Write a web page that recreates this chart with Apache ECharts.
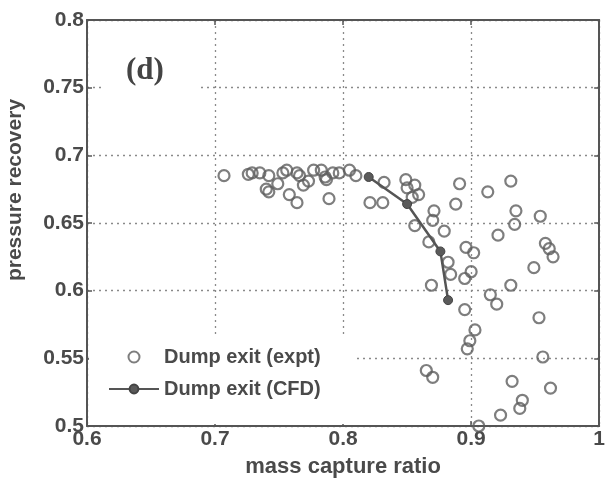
<!DOCTYPE html>
<html>
<head>
<meta charset="utf-8">
<script src="https://cdn.jsdelivr.net/npm/echarts@6/dist/echarts.min.js"></script>
<style>
html,body{margin:0;padding:0;background:#fff;}
#c{width:608px;height:485px;}
</style>
</head>
<body>
<div id="c"></div>
<script>
// Experimental points: mass capture ratio (x) and pressure recovery (y)
const exptX = [0.707,0.726,0.729,0.735,0.742,0.740,0.742,0.749,0.753,0.756,0.758,0.764,0.764,0.766,0.769,0.773,0.777,0.783,0.786,0.787,0.792,0.789,0.797,
  0.805,0.810,0.832,0.821,0.831,0.849,0.850,0.856,0.859,0.854,0.871,0.870,0.856,0.879,0.891,0.888,
  0.913,0.931,0.935,0.934,0.954,0.921,
  0.867,0.882,0.884,0.869,0.896,0.902,0.895,0.900,0.895,
  0.958,0.961,0.964,0.949,0.931,0.915,0.920,0.953,0.903,
  0.899,0.897,0.956,0.865,0.870,0.932,0.962,0.940,0.938,0.923,0.906];
const exptY = [0.685,0.686,0.687,0.687,0.685,0.675,0.673,0.679,0.687,0.689,0.671,0.665,0.687,0.685,0.678,0.681,0.689,0.689,0.684,0.682,0.687,0.668,0.687,
  0.689,0.685,0.680,0.665,0.665,0.682,0.676,0.678,0.671,0.669,0.659,0.652,0.648,0.644,0.679,0.664,
  0.673,0.681,0.659,0.649,0.655,0.641,
  0.636,0.621,0.612,0.604,0.632,0.628,0.609,0.614,0.586,
  0.635,0.631,0.625,0.617,0.604,0.597,0.590,0.580,0.571,
  0.563,0.557,0.551,0.541,0.536,0.533,0.528,0.519,0.513,0.508,0.500];
// CFD line
const cfdX = [0.820,0.850,0.876,0.882];
const cfdY = [0.684,0.664,0.629,0.593];

const xTicks = {min:0.6, max:1.0, step:0.1};
const yTicks = {min:0.5, max:0.8, step:0.05};

const expt = exptX.map((x,i)=>[x,exptY[i]]);
const cfd = cfdX.map((x,i)=>[x,cfdY[i]]);

const txt = '#4a4a4a';
const axisCol = '#555';
const font = '"Liberation Sans", Arial, sans-serif';

const chart = echarts.init(document.getElementById('c'), null, {renderer:'canvas'});
const fmtX = v => (Math.abs(v-1)<1e-9 ? '1' : (+v.toFixed(2)).toString());
const fmtY = v => (+v.toFixed(2)).toString();

chart.setOption({
  backgroundColor:'#fff',
  animation:false,
  grid:{left:87,right:7,top:20,bottom:59,containLabel:false},
  xAxis:[{
    type:'value',min:xTicks.min,max:xTicks.max,interval:xTicks.step,
    name:'mass capture ratio',nameLocation:'middle',nameGap:30,
    nameTextStyle:{color:txt,fontSize:22,fontWeight:'bold',fontFamily:font},
    axisLine:{show:true,lineStyle:{color:axisCol,width:2}},
    axisTick:{show:true,inside:true,length:5,lineStyle:{color:axisCol,width:1.5}},
    axisLabel:{color:txt,fontSize:21,fontWeight:'bold',fontFamily:font,margin:3,formatter:fmtX},
    splitLine:{show:true,lineStyle:{color:'#8a8a8a',type:[2,4],width:1.3}}
  },{
    type:'value',position:'top',min:xTicks.min,max:xTicks.max,interval:xTicks.step,
    axisLine:{show:true,lineStyle:{color:axisCol,width:2}},
    axisTick:{show:true,inside:true,length:5,lineStyle:{color:axisCol,width:1.5}},
    axisLabel:{show:false},splitLine:{show:false}
  }],
  yAxis:[{
    type:'value',min:yTicks.min,max:yTicks.max,interval:yTicks.step,
    axisLine:{show:true,lineStyle:{color:axisCol,width:2}},
    axisTick:{show:true,inside:true,length:5,lineStyle:{color:axisCol,width:1.5}},
    axisLabel:{color:txt,fontSize:21,fontWeight:'bold',fontFamily:font,margin:3,formatter:fmtY},
    splitLine:{show:true,lineStyle:{color:'#8a8a8a',type:[2,4],width:1.3}}
  },{
    type:'value',position:'right',min:yTicks.min,max:yTicks.max,interval:yTicks.step,
    axisLine:{show:true,lineStyle:{color:axisCol,width:2}},
    axisTick:{show:true,inside:true,length:5,lineStyle:{color:axisCol,width:1.5}},
    axisLabel:{show:false},splitLine:{show:false}
  }],
  legend:{
    left:108,top:347,orient:'vertical',itemGap:12,itemWidth:50,itemHeight:11,padding:0,
    textStyle:{color:txt,fontSize:20,fontWeight:'bold',fontFamily:font,padding:[0,0,0,0]},
    data:[{name:'Dump exit (expt)'},{name:'Dump exit (CFD)'}]
  },
  series:[{
    name:'Dump exit (expt)',type:'scatter',data:expt,
    symbol:'circle',symbolSize:11,
    itemStyle:{color:'rgba(255,255,255,0)',borderColor:'#5e5e5e',borderWidth:2.2},
    z:3
  },{
    name:'Dump exit (CFD)',type:'line',data:cfd,
    symbol:'circle',symbolSize:9,
    lineStyle:{color:'#555',width:2.5},
    itemStyle:{color:'#5a5a5a',borderColor:'#444',borderWidth:1},
    z:4
  }],
  graphic:[{
    type:'rect',z:1,silent:true,
    shape:{x:89,y:337,width:266,height:87},
    style:{fill:'#fff'}
  },{
    type:'text',z:1,left:101,top:51,
    style:{text:'(d)',fill:'#444',font:'bold 31px "Liberation Serif", "Times New Roman", serif',
      backgroundColor:'#fff',padding:[4,36,4,25]}
  },{
    type:'text',z:1,x:15,y:190,rotation:Math.PI/2,
    style:{text:'pressure recovery',fill:txt,font:'bold 21px "Liberation Sans", Arial, sans-serif',
      textAlign:'center',textVerticalAlign:'middle'}
  }]
});
</script>
</body>
</html>
